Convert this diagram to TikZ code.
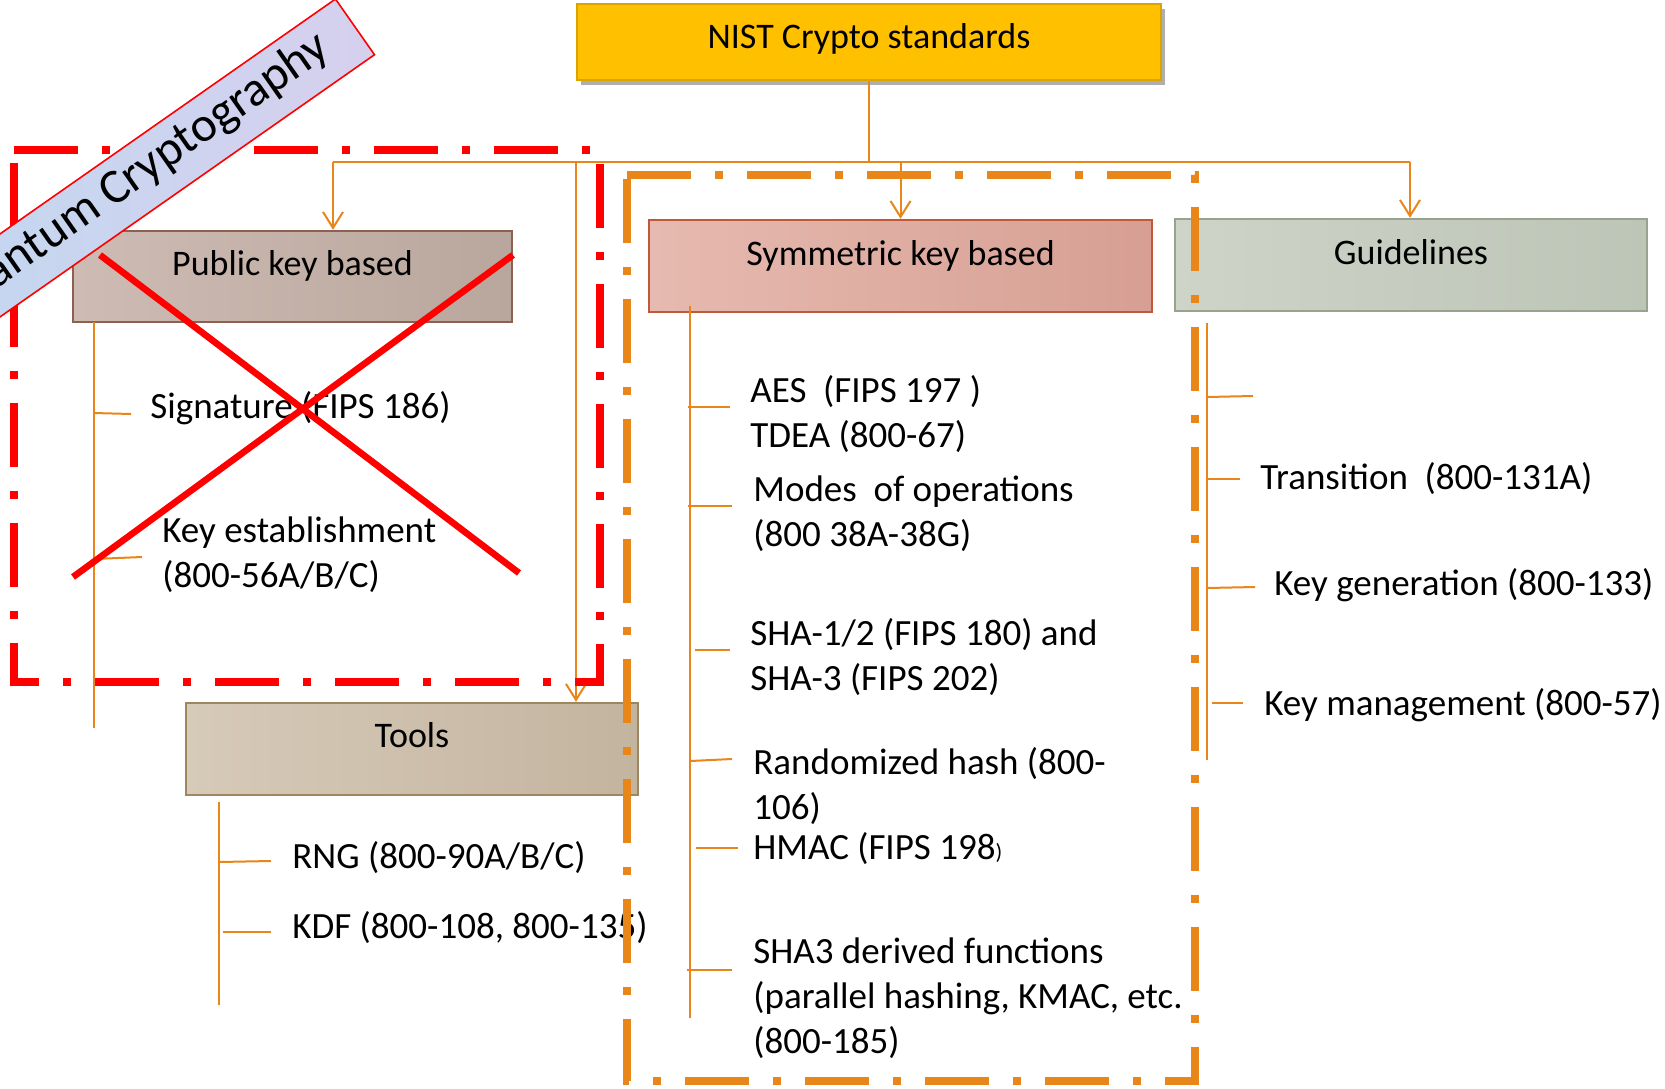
\documentclass[tikz,border=0pt]{standalone}
\usepackage{fontspec}
\setmainfont{Carlito}
\usetikzlibrary{arrows.meta,shadows}
\definecolor{org}{HTML}{E8861A}
\definecolor{rd}{HTML}{FF0000}
\definecolor{nistc}{HTML}{FFC000}
\definecolor{pkL}{HTML}{CEBBB3}
\definecolor{pkR}{HTML}{B9A69D}
\definecolor{pkB}{HTML}{8D6150}
\definecolor{syL}{HTML}{E6BAB0}
\definecolor{syR}{HTML}{D79F93}
\definecolor{syB}{HTML}{C0583A}
\definecolor{glL}{HTML}{CED4C8}
\definecolor{glR}{HTML}{BDC5B7}
\definecolor{glB}{HTML}{97A38C}
\definecolor{toL}{HTML}{D6CAB8}
\definecolor{toR}{HTML}{C3B49F}
\definecolor{toB}{HTML}{9E865E}
\definecolor{bnL}{HTML}{C2D8F0}
\definecolor{bnR}{HTML}{D6D0EE}
\newcommand{\ml}[1]{\begin{tabular}[t]{@{}l@{}}#1\end{tabular}}
\begin{document}
\begin{tikzpicture}[x=0.5pt,y=-0.5pt,
  conn/.style={draw=org, line width=1pt},
  arr/.style={conn, -{Straight Barb[length=8pt,width=10pt,line width=1pt]}},
  catbox/.style={line width=1.2pt, inner sep=0pt, align=center,
    font=\fontsize{18}{21.6}\selectfont},
  item/.style={font=\fontsize{18.5}{22.5}\selectfont, anchor=base west, inner sep=0pt},
  dashdot/.style={line width=4pt, dash pattern=on 32pt off 12pt on 4pt off 12pt}]
\useasboundingbox (0,0) rectangle (1665,1088);
\clip (0,0) rectangle (1665,1088);

% category boxes
\node[catbox, fill=nistc, draw=nistc!85!black, line width=0.6pt,
  minimum width=292pt, text height=22pt, text depth=16pt,
  drop shadow={shadow xshift=2pt,shadow yshift=-2.5pt,opacity=0.45,fill=black!70}]
  (nist) at (869,42) {NIST Crypto standards};
\node[catbox, draw=pkB, left color=pkL, right color=pkR,
  minimum width=219.5pt, text height=22pt, text depth=23.5pt]
  (pk) at (292.5,276.5) {Public key based};
\node[catbox, draw=syB, left color=syL, right color=syR,
  minimum width=251.5pt, text height=22.5pt, text depth=23.5pt]
  (sym) at (900.5,266) {Symmetric key based};
\node[catbox, draw=glB, left color=glL, right color=glR,
  minimum width=236pt, text height=22.5pt, text depth=23.5pt]
  (gl) at (1411,265) {Guidelines};
\node[catbox, draw=toB, left color=toL, right color=toR,
  minimum width=226pt, text height=22pt, text depth=24pt]
  (tools) at (412,749) {Tools};

% bus and arrows
\coordinate (busl) at (333,162);
\coordinate (busr) at (1410,162);
\coordinate (bust) at (576,162);
\draw[conn] (nist.south) -- (nist.south |- busl);
\draw[conn] (busl) -- (busr);
\draw[arr] (busl) -- (busl |- pk.north);
\draw[arr] (sym.north |- busl) -- (sym.north);
\draw[arr] (busr) -- (busr |- gl.north);
\draw[arr] (bust) -- (bust |- tools.north);

% public key list
\coordinate (pka) at (94,322); \coordinate (pkb) at (94,728);
\coordinate (pk1a) at (94,413); \coordinate (pk1b) at (131,414);
\coordinate (pk2a) at (94,559); \coordinate (pk2b) at (142,557);
\draw[conn] (pka) -- (pkb);
\draw[conn] (pk1a) -- (pk1b);
\draw[conn] (pk2a) -- (pk2b);
\node[item] (sig) at (150,418) {Signature (FIPS 186)};
\node[item] (kest) at (162,542) {\ml{Key establishment\\(800-56A/B/C)}};

% tools list
\coordinate (toa) at (219,802); \coordinate (tob) at (219,1005);
\coordinate (to1a) at (219,862); \coordinate (to1b) at (271,861);
\coordinate (to2a) at (223,932); \coordinate (to2b) at (271,932);
\draw[conn] (toa) -- (tob);
\draw[conn] (to1a) -- (to1b);
\draw[conn] (to2a) -- (to2b);
\node[item] (rng) at (292,868) {RNG (800-90A/B/C)};
\node[item] (kdf) at (292,938) {KDF (800-108, 800-135)};

% symmetric list
\coordinate (sya) at (690,306); \coordinate (syb) at (690,1018);
\draw[conn] (sya) -- (syb);
\coordinate (sy1a) at (688,407); \coordinate (sy1b) at (730,407);
\coordinate (sy2a) at (688,506); \coordinate (sy2b) at (732,506);
\coordinate (sy3a) at (695,650); \coordinate (sy3b) at (730,650);
\coordinate (sy4a) at (690,761); \coordinate (sy4b) at (732,759);
\coordinate (sy5a) at (696,848); \coordinate (sy5b) at (738,848);
\coordinate (sy6a) at (687,970); \coordinate (sy6b) at (732,970);
\draw[conn] (sy1a) -- (sy1b);
\draw[conn] (sy2a) -- (sy2b);
\draw[conn] (sy3a) -- (sy3b);
\draw[conn] (sy4a) -- (sy4b);
\draw[conn] (sy5a) -- (sy5b);
\draw[conn] (sy6a) -- (sy6b);
\node[item] (aes) at (750,402) {\ml{AES\ \ (FIPS 197\ )\\TDEA (800-67)}};
\node[item] (modes) at (753,501) {\ml{Modes\ \ of operations\\(800 38A-38G)}};
\node[item] (sha) at (750,645) {\ml{SHA-1/2 (FIPS 180) and\\SHA-3 (FIPS 202)}};
\node[item] (rh) at (753,774) {\ml{Randomized hash (800-\\106)}};
\node[item] (hmac) at (753,859) {HMAC (FIPS 198{\fontsize{11}{13}\selectfont)}};
\node[item] (sha3) at (753,963) {\ml{SHA3 derived functions\\(parallel hashing, KMAC, etc.\\(800-185)}};

% guidelines list
\coordinate (gla) at (1207,323); \coordinate (glb) at (1207,760);
\draw[conn] (gla) -- (glb);
\coordinate (gl1a) at (1207,397); \coordinate (gl1b) at (1253,396);
\coordinate (gl2a) at (1207,479); \coordinate (gl2b) at (1240,479);
\coordinate (gl3a) at (1207,588); \coordinate (gl3b) at (1255,587);
\coordinate (gl4a) at (1212,703); \coordinate (gl4b) at (1243,703);
\draw[conn] (gl1a) -- (gl1b);
\draw[conn] (gl2a) -- (gl2b);
\draw[conn] (gl3a) -- (gl3b);
\draw[conn] (gl4a) -- (gl4b);
\node[item] (trans) at (1260,489) {Transition\ \ (800-131A)};
\node[item] (kgen) at (1274,595) {Key generation (800-133)};
\node[item] (kman) at (1264,715) {Key management (800-57)};

% red cross
\draw[rd, line width=3.3pt] (100,255) -- (519,573);
\draw[rd, line width=3.3pt] (513,255) -- (73,577);

% dash-dot frames
\draw[rd, dashdot] (14,149.5) -- (600,149.5) -- (600,682) -- (14,682) -- cycle;
\draw[org, dashdot] (627,175) -- (1195,175) -- (1195,1081) -- (627,1081) -- cycle;

% banner
\node[draw=rd, line width=0.8pt, left color=bnL, right color=bnR, rotate=35,
  minimum width=260pt, minimum height=34pt, inner sep=0pt] (qbanner) at (142,176) {};
\node[rotate=35, inner sep=0pt, font=\fontsize{24.5}{28}\selectfont] (qtext) at (133,178) {Quantum Cryptography};
\end{tikzpicture}
\end{document}
